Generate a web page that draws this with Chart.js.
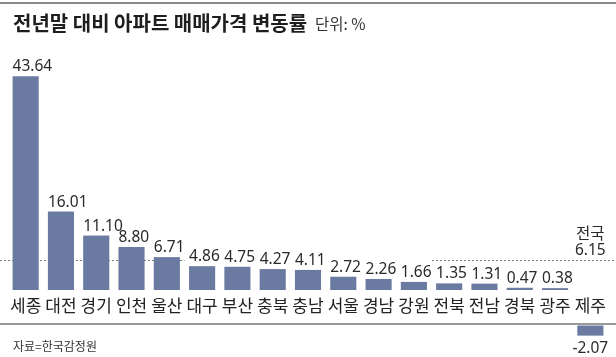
<!DOCTYPE html>
<html>
<head>
<meta charset="utf-8">
<script src="https://cdn.jsdelivr.net/npm/chart.js@4/dist/chart.umd.min.js"></script>
<style>
html,body{margin:0;padding:0;background:#fff;}
#wrap{width:616px;height:357px;position:relative;}
</style>
</head>
<body>
<div id="wrap"><canvas id="c" width="616" height="357"></canvas></div>
<script>
// ---- data ----
const titleText = '전년말 대비 아파트 매매가격 변동률';
const unitText = '단위: %';
const sourceText = '자료=한국감정원';
const categories = ['세종','대전','경기','인천','울산','대구','부산','충북','충남','서울','경남','강원','전북','전남','경북','광주','제주'];
const values = [43.64,16.01,11.10,8.80,6.71,4.86,4.75,4.27,4.11,2.72,2.26,1.66,1.35,1.31,0.47,0.38,-2.07];
const nationalName = '전국';
const nationalValue = 6.15;

const positiveValues = values.map(v => v >= 0 ? v : null);
const negativeValues = values.map(v => v < 0 ? v : null);

const BAR = '#6b7aa1';
const NUM_FONT = '15.5px "Noto Sans", "Noto Sans CJK KR", sans-serif';
const SEP_Y = 323;

const deco = {
  id: 'deco',
  beforeDraw(chart) {
    const ctx = chart.ctx;
    ctx.save();
    ctx.fillStyle = '#fff';
    ctx.fillRect(0, 0, chart.width, chart.height);
    // top rule
    ctx.fillStyle = '#8a8a8a';
    ctx.fillRect(0, 2, chart.width, 2);
    // title
    ctx.fillStyle = '#1e1e1e';
    ctx.textBaseline = 'alphabetic';
    ctx.textAlign = 'left';
    ctx.font = 'bold 20px "Noto Sans CJK KR", sans-serif';
    ctx.fillText(titleText, 13, 31);
    ctx.font = '15.5px "Noto Sans CJK KR", sans-serif';
    ctx.fillStyle = '#333';
    ctx.fillText(unitText, 315, 30);
    // source
    ctx.font = '12px "Noto Sans CJK KR", sans-serif';
    ctx.fillStyle = '#333';
    ctx.fillText(sourceText, 13, 351);
    // separator rule under category labels
    ctx.fillStyle = '#999';
    ctx.fillRect(0, SEP_Y, chart.width, 2);
    ctx.restore();
  },
  beforeDatasetsDraw(chart) {
    const ctx = chart.ctx;
    const y = Math.round(chart.scales.y.getPixelForValue(nationalValue));
    ctx.save();
    ctx.fillStyle = '#7a7a7a';
    for (let x = 0; x < chart.width; x += 4) ctx.fillRect(x, y, 2, 1);
    ctx.restore();
  },
  beforeDatasetDraw(chart, args) {
    if (args.index === 1) {
      const off = SEP_Y + 2.5 - chart.scales.y.getPixelForValue(0);
      chart.ctx.save();
      chart.ctx.translate(0, off);
    }
  },
  afterDatasetDraw(chart, args) {
    if (args.index === 1) chart.ctx.restore();
  },
  afterDatasetsDraw(chart) {
    const ctx = chart.ctx;
    const ys = chart.scales.y;
    const xs = chart.scales.x;
    const slot = (xs.right - xs.left) / categories.length;
    const off = SEP_Y + 2.5 - ys.getPixelForValue(0);
    ctx.save();
    ctx.font = NUM_FONT;
    ctx.textBaseline = 'alphabetic';
    ctx.textAlign = 'left';
    const items = [];
    const pos = chart.getDatasetMeta(0).data;
    const neg = chart.getDatasetMeta(1).data;
    values.forEach((v, i) => {
      const txt = v.toFixed(2);
      const w = ctx.measureText(txt).width;
      if (v >= 0) {
        const el = pos[i];
        let x = el.x - w / 2;
        x = Math.max(x, el.x - el.width / 2);
        const base = el.y - 5;
        items.push({txt, x, base, boxTop: base - 17, boxBottom: el.y, cx: el.x});
      } else {
        const el = neg[i];
        const x = el.x - w / 2;
        const base = Math.max(el.y, el.base) + off + 17;
        items.push({txt, x, base, neg: true});
      }
    });
    ctx.fillStyle = '#fff';
    items.forEach(it => {
      if (!it.neg) ctx.fillRect(it.cx - slot / 2, it.boxTop, slot, it.boxBottom - it.boxTop - 0.5);
    });
    ctx.fillStyle = '#2a2a2a';
    items.forEach(it => ctx.fillText(it.txt, it.x, it.base));
    // national label
    const lastX = xs.getPixelForValue(categories.length - 1);
    const ny = ys.getPixelForValue(nationalValue);
    ctx.textAlign = 'center';
    ctx.fillText(nationalValue.toFixed(2), lastX, ny - 5);
    ctx.font = '15.5px "Noto Sans CJK KR", sans-serif';
    ctx.fillText(nationalName, lastX, ny - 21);
    ctx.restore();
  }
};

new Chart(document.getElementById('c'), {
  type: 'bar',
  data: {
    labels: categories,
    datasets: [
      { data: positiveValues, backgroundColor: BAR, borderWidth: 0, grouped: false, barPercentage: 0.74, categoryPercentage: 1 },
      { data: negativeValues, backgroundColor: BAR, borderWidth: 0, grouped: false, barPercentage: 0.74, categoryPercentage: 1, clip: false }
    ]
  },
  options: {
    responsive: false,
    animation: false,
    devicePixelRatio: 1,
    layout: { padding: { left: 8, right: 8, top: 45, bottom: 0 } },
    plugins: { legend: { display: false }, title: { display: false }, tooltip: { enabled: false } },
    scales: {
      x: {
        grid: { display: false, drawTicks: false },
        border: { display: false },
        ticks: { color: '#222', font: { family: '"Noto Sans CJK KR", sans-serif', size: 17 }, padding: 5, autoSkip: false, maxRotation: 0 },
        afterFit(scale) { scale.height = 67; }
      },
      y: { display: false, min: 0, max: 50 }
    }
  },
  plugins: [deco]
});
</script>
</body>
</html>
